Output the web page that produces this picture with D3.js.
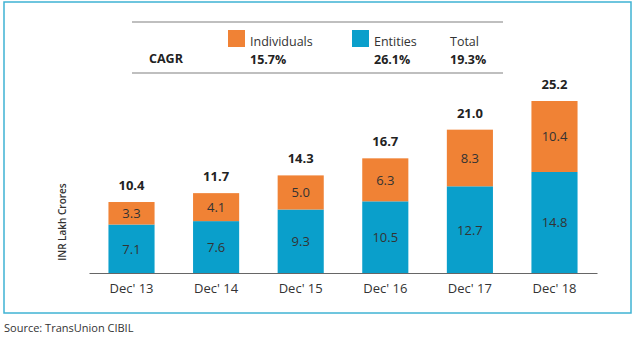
<!DOCTYPE html>
<html>
<head>
<meta charset="utf-8">
<script src="https://cdn.jsdelivr.net/npm/d3@7"></script>
<style>
  body { margin: 0; background: #fff; }
  svg { font-family: "Open Sans", "Noto Sans", sans-serif; }
</style>
</head>
<body>
<div id="chart"></div>
<script>
// data
const years = ["Dec' 13", "Dec' 14", "Dec' 15", "Dec' 16", "Dec' 17", "Dec' 18"];
const entities = [7.1, 7.6, 9.3, 10.5, 12.7, 14.8];
const individuals = [3.3, 4.1, 5.0, 6.3, 8.3, 10.4];
const totals = [10.4, 11.7, 14.3, 16.7, 21.0, 25.2];
const cagrLabels = ["Individuals", "Entities", "Total"];
const cagrValues = ["15.7%", "26.1%", "19.3%"];

const width = 635, height = 339;
const blue = "#0a9fcb", orange = "#f08235", text = "#333";

const svg = d3.select("#chart").append("svg")
  .attr("width", width)
  .attr("height", height);

// outer frame
svg.append("rect")
  .attr("x", 4).attr("y", 2)
  .attr("width", 627).attr("height", 311)
  .attr("fill", "none")
  .attr("stroke", "#3fb3d3")
  .attr("stroke-width", 1.5);

// scales
const x = d3.scaleBand()
  .domain(years)
  .range([89, 597])
  .paddingInner(0.455)
  .paddingOuter(0.23);

const y = d3.scaleLinear()
  .domain([0, 25.2])
  .range([273, 101]);

const rows = years.map((yr, i) => ({
  yr, ent: entities[i], ind: individuals[i], tot: totals[i]
}));

const g = svg.append("g");

// entities (bottom)
g.selectAll(".ent")
  .data(rows)
  .enter().append("rect")
  .attr("x", d => x(d.yr))
  .attr("width", x.bandwidth())
  .attr("y", d => y(d.ent))
  .attr("height", d => y(0) - y(d.ent))
  .attr("fill", blue);

// individuals (top)
g.selectAll(".ind")
  .data(rows)
  .enter().append("rect")
  .attr("x", d => x(d.yr))
  .attr("width", x.bandwidth())
  .attr("y", d => y(d.ent + d.ind))
  .attr("height", d => y(d.ent) - y(d.ent + d.ind))
  .attr("fill", orange);

// segment labels
g.selectAll(".entLbl")
  .data(rows)
  .enter().append("text")
  .attr("x", d => x(d.yr) + x.bandwidth() / 2)
  .attr("y", d => y(d.ent / 2) + 5)
  .attr("text-anchor", "middle")
  .attr("font-size", 13)
  .attr("fill", text)
  .text(d => d.ent.toFixed(1));

g.selectAll(".indLbl")
  .data(rows)
  .enter().append("text")
  .attr("x", d => x(d.yr) + x.bandwidth() / 2)
  .attr("y", d => y(d.ent + d.ind / 2) + 5)
  .attr("text-anchor", "middle")
  .attr("font-size", 13)
  .attr("fill", text)
  .text(d => d.ind.toFixed(1));

// totals
g.selectAll(".totLbl")
  .data(rows)
  .enter().append("text")
  .attr("x", d => x(d.yr) + x.bandwidth() / 2)
  .attr("y", d => y(d.ent + d.ind) - 12)
  .attr("text-anchor", "middle")
  .attr("font-size", 13)
  .attr("font-weight", "bold")
  .attr("fill", "#222")
  .text(d => d.tot.toFixed(1));

// x axis
const xAxis = svg.append("g")
  .attr("transform", `translate(0,${y(0)})`)
  .call(d3.axisBottom(x).tickSize(0).tickPadding(11));
xAxis.select(".domain").attr("stroke", "#666").attr("stroke-width", 1.2);
xAxis.selectAll("text")
  .attr("font-size", 13)
  .attr("fill", text)
  .style("font-family", "'Open Sans', sans-serif");

// y axis title
svg.append("text")
  .attr("transform", "translate(66,222) rotate(-90)")
  .attr("text-anchor", "middle")
  .attr("font-size", 10)
  .attr("font-weight", 600)
  .attr("fill", text)
  .text("INR Lakh Crores");

// CAGR legend box
const lg = svg.append("g");
lg.append("line").attr("x1", 132).attr("x2", 503).attr("y1", 22).attr("y2", 22)
  .attr("stroke", "#aaa").attr("stroke-width", 1.5);
lg.append("line").attr("x1", 132).attr("x2", 503).attr("y1", 73).attr("y2", 73)
  .attr("stroke", "#aaa").attr("stroke-width", 1.5);
lg.append("text").attr("x", 149).attr("y", 63)
  .attr("font-size", 12.5).attr("font-weight", "bold").attr("fill", "#222")
  .text("CAGR");

const lx = [250, 374, 450];
const swatch = [orange, blue, null];
cagrLabels.forEach((lab, i) => {
  if (swatch[i]) {
    lg.append("rect")
      .attr("x", lx[i] - 22).attr("y", 30)
      .attr("width", 17).attr("height", 17)
      .attr("fill", swatch[i]);
  }
  lg.append("text").attr("x", lx[i]).attr("y", 46)
    .attr("font-size", 12.5).attr("fill", text).text(lab);
  lg.append("text").attr("x", lx[i]).attr("y", 63.5)
    .attr("font-size", 12.5).attr("font-weight", "bold").attr("fill", "#222")
    .text(cagrValues[i]);
});

// source
svg.append("text")
  .attr("x", 4).attr("y", 332)
  .attr("font-size", 11)
  .attr("fill", text)
  .text("Source: TransUnion CIBIL");
</script>
</body>
</html>
